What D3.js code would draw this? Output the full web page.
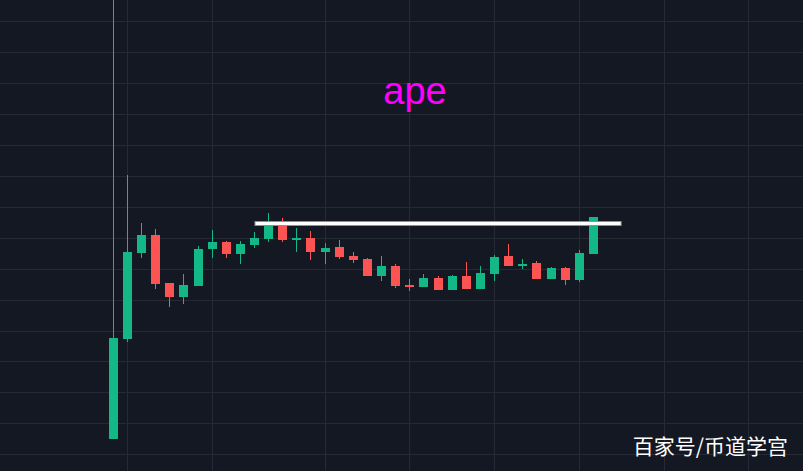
<!DOCTYPE html>
<meta charset="utf-8">
<style>
body {
		margin: 0;
		background: #141823;
		overflow: hidden;
}

.grid line {
		stroke: #262a37;
		stroke-width: 1;
		shape-rendering: crispEdges;
}

.title {
		font-family: "Liberation Sans", Arial, sans-serif;
		font-size: 38px;
		fill: #ff00ff;
}

.mark {
		font-family: "Noto Sans CJK SC", sans-serif;
		font-size: 21px;
		fill: #ffffff;
}
</style>

<body>
<script src="https://d3js.org/d3.v7.min.js"></script>
<script>

var width = 803
		, height = 471;

// daily candles, APE
var days = ["2022-03-17","2022-03-18","2022-03-19","2022-03-20","2022-03-21","2022-03-22","2022-03-23",
		"2022-03-24","2022-03-25","2022-03-26","2022-03-27","2022-03-28","2022-03-29","2022-03-30",
		"2022-03-31","2022-04-01","2022-04-02","2022-04-03","2022-04-04","2022-04-05","2022-04-06",
		"2022-04-07","2022-04-08","2022-04-09","2022-04-10","2022-04-11","2022-04-12","2022-04-13",
		"2022-04-14","2022-04-15","2022-04-16","2022-04-17","2022-04-18","2022-04-19","2022-04-20"];

var open  = [5.50, 8.73, 11.51, 12.09, 10.54, 10.08, 10.44, 11.64, 11.86, 11.47, 11.77, 11.96,
		12.41, 11.93, 11.99, 11.54, 11.70, 11.41, 11.31, 10.76, 11.09, 10.47, 10.41, 10.70,
		10.31, 10.76, 10.34, 10.83, 11.41, 11.09, 11.18, 10.67, 11.02, 10.63, 11.47];
var high  = [22.00, 14.03, 12.48, 12.28, 10.54, 10.83, 11.73, 12.25, 11.90, 11.90, 12.19, 12.80,
		12.64, 12.32, 12.22, 11.83, 11.93, 11.54, 11.35, 11.41, 11.15, 10.67, 10.83, 10.76,
		10.80, 11.22, 11.09, 11.44, 11.80, 11.31, 11.25, 11.05, 11.05, 11.60, 12.67];
var low   = [5.50, 8.63, 11.35, 10.34, 9.76, 9.86, 10.44, 11.35, 11.35, 11.15, 11.67, 11.86,
		11.86, 11.54, 11.28, 11.15, 11.31, 11.18, 10.76, 10.60, 10.38, 10.28, 10.41, 10.31,
		10.31, 10.34, 10.34, 10.60, 11.09, 10.99, 10.67, 10.67, 10.47, 10.57, 11.47];
var close = [8.76, 11.54, 12.09, 10.50, 10.08, 10.47, 11.64, 11.86, 11.47, 11.80, 11.99, 12.41,
		11.93, 11.99, 11.54, 11.67, 11.38, 11.28, 10.76, 11.09, 10.44, 10.41, 10.70, 10.31,
		10.76, 10.34, 10.86, 11.38, 11.09, 11.15, 10.67, 11.02, 10.63, 11.51, 12.67];

// time grid and price grid
var timeTicks = ["2022-03-18","2022-03-24","2022-04-01","2022-04-07","2022-04-13","2022-04-19","2022-04-25","2022-05-01"];
var priceTicks = [5, 6, 7, 8, 9, 10, 11, 12, 13, 14, 15, 16, 17, 18, 19];

// resistance line
var levelPrice = 12.46;
var levelFrom = "2022-03-27", levelTo = "2022-04-22";

var parse = d3.utcParse("%Y-%m-%d");

var candles = days.map(function(d, i) {
		return {date: parse(d), open: open[i], high: high[i], low: low[i], close: close[i]};
});

var x = d3.scaleUtc()
		.domain([parse(days[0]), parse(days[days.length - 1])])
		.range([113.3, 593.4]);

var y = d3.scaleLinear()
		.domain([5, 19])
		.range([454.2, 21.3]);

var candleWidth = 9;
var up = "#13b886", down = "#fc5453";

var svg = d3.select("body").append("svg")
		.attr("width", width)
		.attr("height", height)
		.style("display", "block");

svg.append("rect")
		.attr("width", width)
		.attr("height", height)
		.attr("fill", "#141823");

var grid = svg.append("g").attr("class", "grid");

grid.selectAll(".hl")
		.data(priceTicks)
		.enter().append("line")
		.attr("class", "hl")
		.attr("x1", 0).attr("x2", width)
		.attr("y1", function(d) { return Math.round(y(d)) + 0.5; })
		.attr("y2", function(d) { return Math.round(y(d)) + 0.5; });

grid.selectAll(".vl")
		.data(timeTicks.map(parse))
		.enter().append("line")
		.attr("class", "vl")
		.attr("y1", 0).attr("y2", height)
		.attr("x1", function(d) { return Math.floor(x(d)) + 0.5; })
		.attr("x2", function(d) { return Math.floor(x(d)) + 0.5; });

svg.append("text")
		.attr("class", "title")
		.attr("x", 415)
		.attr("y", 104)
		.attr("text-anchor", "middle")
		.text("ape");

var candle = svg.append("g").selectAll("g")
		.data(candles)
		.enter().append("g");

candle.append("line")
		.attr("x1", function(d) { return Math.floor(x(d.date)) + 0.5; })
		.attr("x2", function(d) { return Math.floor(x(d.date)) + 0.5; })
		.attr("y1", function(d) { return y(d.high); })
		.attr("y2", function(d) { return y(d.low); })
		.attr("stroke", function(d) { return d.close >= d.open ? up : down; })
		.attr("stroke-width", 1)
		.attr("shape-rendering", "crispEdges");

candle.append("rect")
		.attr("x", function(d) { return Math.floor(x(d.date)) - (candleWidth - 1) / 2; })
		.attr("width", candleWidth)
		.attr("y", function(d) { return y(Math.max(d.open, d.close)); })
		.attr("height", function(d) { return Math.max(1, Math.abs(y(d.open) - y(d.close))); })
		.attr("fill", function(d) { return d.close >= d.open ? up : down; })
		.attr("shape-rendering", "crispEdges");

var level = svg.append("g");

level.append("line")
		.attr("x1", x(parse(levelFrom))).attr("x2", x(parse(levelTo)))
		.attr("y1", y(levelPrice)).attr("y2", y(levelPrice))
		.attr("stroke", "#8e9099")
		.attr("stroke-width", 5);

level.append("line")
		.attr("x1", x(parse(levelFrom)) + 1).attr("x2", x(parse(levelTo)) - 1)
		.attr("y1", y(levelPrice)).attr("y2", y(levelPrice))
		.attr("stroke", "#ffffff")
		.attr("stroke-width", 3);

svg.append("text")
		.attr("class", "mark")
		.attr("x", 788)
		.attr("y", 454)
		.attr("text-anchor", "end")
		.text("百家号/币道学宫");

</script>
</body>
